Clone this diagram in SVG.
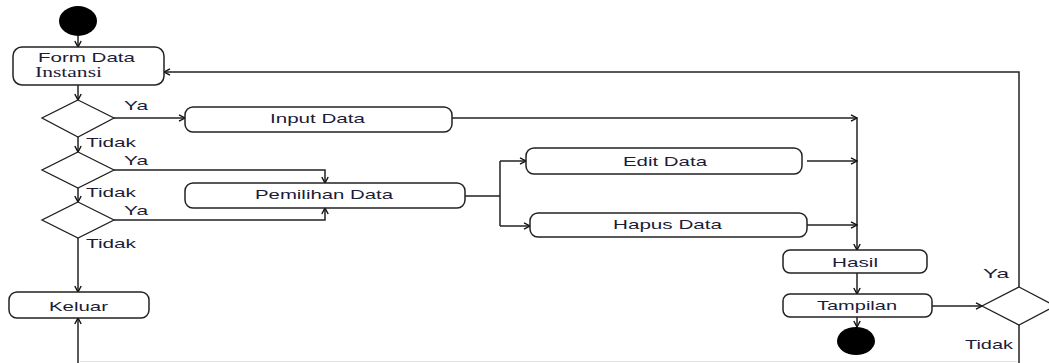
<svg xmlns="http://www.w3.org/2000/svg" width="1049" height="363" viewBox="0 0 1049 363">
  <defs>
    <marker id="arrow" markerWidth="8" markerHeight="8" refX="7" refY="4" orient="auto" markerUnits="userSpaceOnUse">
      <path d="M1,0.8 L7,4 L1,7.2" fill="none" stroke="#111" stroke-width="1.4"/>
    </marker>
    <style>
      .box { fill: #fff; stroke: #222; stroke-width: 1.5; }
      .dec { fill: #fff; stroke: #222; stroke-width: 1.3; }
      .dot { fill: #000; }
      .lbl { font-family: "Liberation Sans", Arial, sans-serif; font-size: 13.5px; fill: #1c1c38; }
      .srf { font-family: "Liberation Serif", "Times New Roman", serif; font-size: 14.5px; fill: #1c1c38; }
      .wire { fill: none; stroke: #222; stroke-width: 1.5; }
      .arr { marker-end: url(#arrow); }
    </style>
  </defs>
  <rect width="1049" height="363" fill="#fff"/>

  <!-- connectors -->
  <g id="connectors" class="wire">
    <path class="arr" d="M78,36 V47"/>
    <path class="arr" d="M78,85 V100"/>
    <path class="arr" d="M114,118 H185"/>
    <path class="arr" d="M78,137 V152"/>
    <path class="arr" d="M114,170 H325 V183"/>
    <path class="arr" d="M78,188 V202"/>
    <path class="arr" d="M114,220 H325 V208"/>
    <path class="arr" d="M78,238 V292"/>
    <path class="arr" d="M78,363 V318"/>
    <path d="M465,196 H500 M500,161 V226"/>
    <path class="arr" d="M500,161 H526"/>
    <path class="arr" d="M500,226 H530"/>
    <path class="arr" d="M452,118 H857"/>
    <path class="arr" d="M857,118 V250"/>
    <path class="arr" d="M807,161 H857"/>
    <path class="arr" d="M807,225 H857"/>
    <path class="arr" d="M857,273 V294"/>
    <path class="arr" d="M857,317 V327"/>
    <path class="arr" d="M932,306 H982"/>
    <path class="arr" d="M1019,287 V72 H164"/>
    <path d="M1019,325 V363"/>
    <path d="M80,361.5 H1017" stroke="#e2e2e2" stroke-width="1"/>
  </g>

  <!-- start / end -->
  <g id="start"><ellipse class="dot" cx="78" cy="21" rx="19" ry="15"/></g>
  <g id="end"><ellipse class="dot" cx="856" cy="341" rx="19" ry="14"/></g>

  <!-- activities -->
  <g id="form-data">
    <rect class="box" x="13" y="47" width="151" height="38" rx="9"/>
    <text class="lbl" x="38" y="62" textLength="97" lengthAdjust="spacingAndGlyphs">Form Data</text>
    <text class="srf" x="35" y="77" textLength="67" lengthAdjust="spacingAndGlyphs">Instansi</text>
  </g>
  <g id="input-data">
    <rect class="box" x="185" y="107" width="267" height="25" rx="8"/>
    <text class="lbl" x="270" y="123" textLength="95" lengthAdjust="spacingAndGlyphs">Input Data</text>
  </g>
  <g id="pemilihan-data">
    <rect class="box" x="185" y="183" width="280" height="25" rx="8"/>
    <text class="lbl" x="255" y="199" textLength="138" lengthAdjust="spacingAndGlyphs">Pemilihan Data</text>
  </g>
  <g id="edit-data">
    <rect class="box" x="526" y="148" width="276" height="26" rx="8"/>
    <text class="lbl" x="623" y="166" textLength="84" lengthAdjust="spacingAndGlyphs">Edit Data</text>
  </g>
  <g id="hapus-data">
    <rect class="box" x="530" y="213" width="277" height="24" rx="8"/>
    <text class="lbl" x="613" y="229" textLength="109" lengthAdjust="spacingAndGlyphs">Hapus Data</text>
  </g>
  <g id="hasil">
    <rect class="box" x="783" y="250" width="144" height="23" rx="7"/>
    <text class="lbl" x="832" y="267" textLength="46" lengthAdjust="spacingAndGlyphs">Hasil</text>
  </g>
  <g id="tampilan">
    <rect class="box" x="783" y="294" width="149" height="23" rx="7"/>
    <text class="lbl" x="817" y="310" textLength="80" lengthAdjust="spacingAndGlyphs">Tampilan</text>
  </g>
  <g id="keluar">
    <rect class="box" x="9" y="292" width="140" height="26" rx="8"/>
    <text class="lbl" x="49" y="311" textLength="59" lengthAdjust="spacingAndGlyphs">Keluar</text>
  </g>

  <!-- decisions -->
  <g id="decision-1">
    <polygon class="dec" points="78,100 114,118 78,137 42,118"/>
    <text class="lbl" x="124" y="110" textLength="24" lengthAdjust="spacingAndGlyphs">Ya</text>
    <text class="lbl" x="86" y="147" textLength="50" lengthAdjust="spacingAndGlyphs">Tidak</text>
  </g>
  <g id="decision-2">
    <polygon class="dec" points="78,152 114,170 78,188 42,170"/>
    <text class="lbl" x="124" y="165" textLength="24" lengthAdjust="spacingAndGlyphs">Ya</text>
    <text class="lbl" x="86" y="197" textLength="50" lengthAdjust="spacingAndGlyphs">Tidak</text>
  </g>
  <g id="decision-3">
    <polygon class="dec" points="78,202 114,220 78,238 42,220"/>
    <text class="lbl" x="124" y="215" textLength="24" lengthAdjust="spacingAndGlyphs">Ya</text>
    <text class="lbl" x="86" y="248" textLength="50" lengthAdjust="spacingAndGlyphs">Tidak</text>
  </g>
  <g id="decision-4">
    <polygon class="dec" points="1019,287 1055,306 1019,325 982,306"/>
    <text class="lbl" x="983" y="278" textLength="26" lengthAdjust="spacingAndGlyphs">Ya</text>
    <text class="lbl" x="965" y="349" textLength="48" lengthAdjust="spacingAndGlyphs">Tidak</text>
  </g>
</svg>
